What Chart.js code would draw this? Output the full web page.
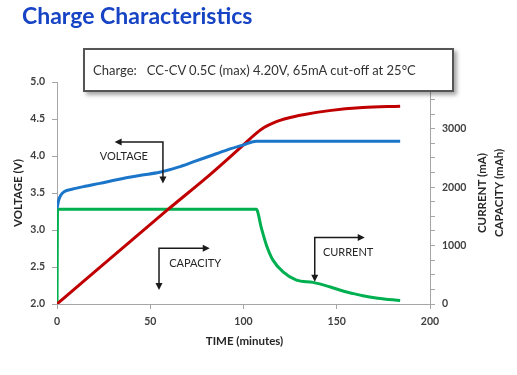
<!DOCTYPE html>
<html>
<head>
<meta charset="utf-8">
<script src="https://cdn.jsdelivr.net/npm/chart.js@4/dist/chart.umd.min.js"></script>
<style>
  html, body { margin:0; padding:0; background:#fff; }
  #wrap { position:relative; width:517px; height:375px; overflow:hidden; }
  #c { position:absolute; left:0; top:0; }
  #title { position:absolute; left:22px; top:1px; font-family:Lato, sans-serif; font-weight:bold; font-size:23px; color:#1744C4; white-space:nowrap; }
  #note { position:absolute; left:83px; top:48px; width:359px; height:40px; border:2px solid #555; background:#fff;
          box-shadow:3px 3px 4px rgba(0,0,0,0.35); font-family:Lato, sans-serif; font-size:13px; color:#333;
          line-height:40px; padding-left:8px; box-sizing:content-box; white-space:pre; }
</style>
</head>
<body>
<div id="wrap">
  <canvas id="c" width="517" height="375"></canvas>
  <div id="title">Charge Characteristics</div>
  <div id="note">Charge:   CC-CV 0.5C (max) 4.20V, 65mA cut-off at 25°C</div>
</div>
<script>
// ---- data ----
const voltageTime = [0, 1, 2, 4, 8, 15, 23, 32, 45, 55, 65, 73, 82, 91, 100, 107, 120, 140, 160, 184];
const voltage     = [3.29, 3.41, 3.47, 3.52, 3.55, 3.59, 3.63, 3.68, 3.74, 3.78, 3.85, 3.92, 4.00, 4.08, 4.15, 4.20, 4.20, 4.20, 4.20, 4.20];

const capacityTime = [0, 59.5, 81.9, 99.7, 106, 111, 117, 124, 132, 146, 164, 184];
const capacity     = [0, 1618, 2210, 2715, 2900, 3020, 3115, 3185, 3240, 3310, 3362, 3385];

const currentTime = [0, 0.3, 60, 106.9, 109.6, 112.3, 115.8, 121.2, 128.4, 137.3, 146.2, 152, 158, 164, 172, 184];
const current     = [0, 1620, 1620, 1620, 1298, 1007, 751, 551, 410, 370, 295, 235, 185, 140, 100, 60];

const timeTicks = [0, 50, 100, 150, 200];
const voltTicks = [2.0, 2.5, 3.0, 3.5, 4.0, 4.5, 5.0];
const rightTicks = [0, 1000, 2000, 3000];

// ---- annotation arrows (in data units: time / voltage) ----
const arrowLabels  = ['VOLTAGE', 'CAPACITY', 'CURRENT'];
const arrowCornerT = [56.8, 54.7, 138.2];
const arrowCornerV = [4.19, 2.755, 2.90];
const arrowHTipT   = [30.9, 81.9, 165.0];
const arrowVTipV   = [3.63, 2.19, 2.30];
const labelT       = [35.8, 74.1, 156.1];
const labelV       = [3.99, 2.55, 2.69];

const pts = (xs, ys) => xs.map((x, i) => ({x, y: ys[i]}));

const AXIS = '#a6a6a6';
const TICKFONT = {family:'Lato, sans-serif', size:10.5, weight:'bold'};

function arrowHead(ctx, x, y, dir) {
  const L = 7, W = 3.5;
  ctx.beginPath();
  if (dir === 'left')  { ctx.moveTo(x, y); ctx.lineTo(x + L, y - W); ctx.lineTo(x + L, y + W); }
  if (dir === 'right') { ctx.moveTo(x, y); ctx.lineTo(x - L, y - W); ctx.lineTo(x - L, y + W); }
  if (dir === 'down')  { ctx.moveTo(x, y); ctx.lineTo(x - W, y - L); ctx.lineTo(x + W, y - L); }
  ctx.closePath(); ctx.fill();
}

const decor = {
  id: 'decor',
  afterDatasetsDraw(chart) {
    const {ctx, scales} = chart;
    const sx = scales.x, sy = scales.y;
    ctx.save();
    ctx.strokeStyle = '#1a1a1a'; ctx.fillStyle = '#1a1a1a'; ctx.lineWidth = 1.5;
    for (let i = 0; i < arrowLabels.length; i++) {
      const cx = sx.getPixelForValue(arrowCornerT[i]);
      const cy = sy.getPixelForValue(arrowCornerV[i]);
      const hx = sx.getPixelForValue(arrowHTipT[i]);
      const vy = sy.getPixelForValue(arrowVTipV[i]);
      const dir = hx < cx ? 'left' : 'right';
      ctx.beginPath();
      ctx.moveTo(hx + (dir === 'left' ? 5 : -5), cy);
      ctx.lineTo(cx, cy);
      ctx.lineTo(cx, vy - 5);
      ctx.stroke();
      arrowHead(ctx, hx, cy, dir);
      arrowHead(ctx, cx, vy, 'down');
      ctx.font = '11px Lato, sans-serif';
      ctx.fillStyle = '#262626';
      ctx.textAlign = 'center'; ctx.textBaseline = 'middle';
      ctx.fillText(arrowLabels[i], sx.getPixelForValue(labelT[i]), sy.getPixelForValue(labelV[i]));
      ctx.fillStyle = '#1a1a1a';
    }
    // axis titles
    const a = chart.chartArea;
    const midY = (a.top + a.bottom) / 2;
    ctx.fillStyle = '#262626';
    ctx.font = 'bold 11.5px Lato, sans-serif';
    ctx.textAlign = 'center'; ctx.textBaseline = 'middle';
    ctx.fillText('TIME (minutes)', (a.left + a.right) / 2 + 1, 341.5);
    const rot = (txt, x) => { ctx.save(); ctx.translate(x, midY); ctx.rotate(-Math.PI / 2); ctx.fillText(txt, 0, 0); ctx.restore(); };
    rot('VOLTAGE (V)', 18.5);
    rot('CURRENT (mA)', 482);
    rot('CAPACITY (mAh)', 499.5);
    ctx.restore();
  }
};

new Chart(document.getElementById('c'), {
  type: 'line',
  data: {
    datasets: [
      { label:'Voltage', data: pts(voltageTime, voltage), yAxisID:'y', borderColor:'#1B75C9', borderWidth:3, pointRadius:0, cubicInterpolationMode:'monotone', fill:false },
      { label:'Capacity', data: pts(capacityTime, capacity), yAxisID:'y1', borderColor:'#C00000', borderWidth:3, pointRadius:0, cubicInterpolationMode:'monotone', fill:false },
      { label:'Current', data: pts(currentTime, current), yAxisID:'y1', borderColor:'#00B050', borderWidth:3, pointRadius:0, cubicInterpolationMode:'monotone', fill:false }
    ]
  },
  options: {
    responsive:false, animation:false, events:[],
    layout: { padding: { top:82, left:0, right:0, bottom:0 } },
    plugins: { legend:{display:false}, tooltip:{enabled:false}, title:{display:false} },
    scales: {
      x: {
        type:'linear', min:0, max:200,
        afterBuildTicks: s => { s.ticks = timeTicks.map(v => ({value:v})); },
        afterFit: s => { s.height = 71; },
        ticks: { color:'#404040', font:TICKFONT, padding:6, maxRotation:0, autoSkip:false },
        grid: { drawOnChartArea:false, drawTicks:true, tickLength:5, color:AXIS },
        border: { color:AXIS, width:1 }
      },
      y: {
        position:'left', min:2, max:5,
        afterBuildTicks: s => { s.ticks = voltTicks.map(v => ({value:v})); },
        afterFit: s => { s.width = 57; },
        ticks: { color:'#404040', font:TICKFONT, padding:7, autoSkip:false, callback: v => Number(v).toFixed(1) },
        grid: { drawOnChartArea:false, drawTicks:true, tickLength:5, color:AXIS },
        border: { color:AXIS, width:1 }
      },
      y1: {
        position:'right', min:0, max:3800,
        afterBuildTicks: s => { const t = []; for (let v = 0; v <= 3750; v += 250) t.push({value:v}); s.ticks = t; },
        afterFit: s => { s.width = 87; },
        ticks: { color:'#404040', font:TICKFONT, padding:7, autoSkip:false, callback: v => rightTicks.includes(v) ? String(v) : '' },
        grid: { drawOnChartArea:false, drawTicks:true, tickLength:5, color:AXIS },
        border: { color:AXIS, width:1 }
      }
    }
  },
  plugins: [decor]
});
</script>
</body>
</html>
